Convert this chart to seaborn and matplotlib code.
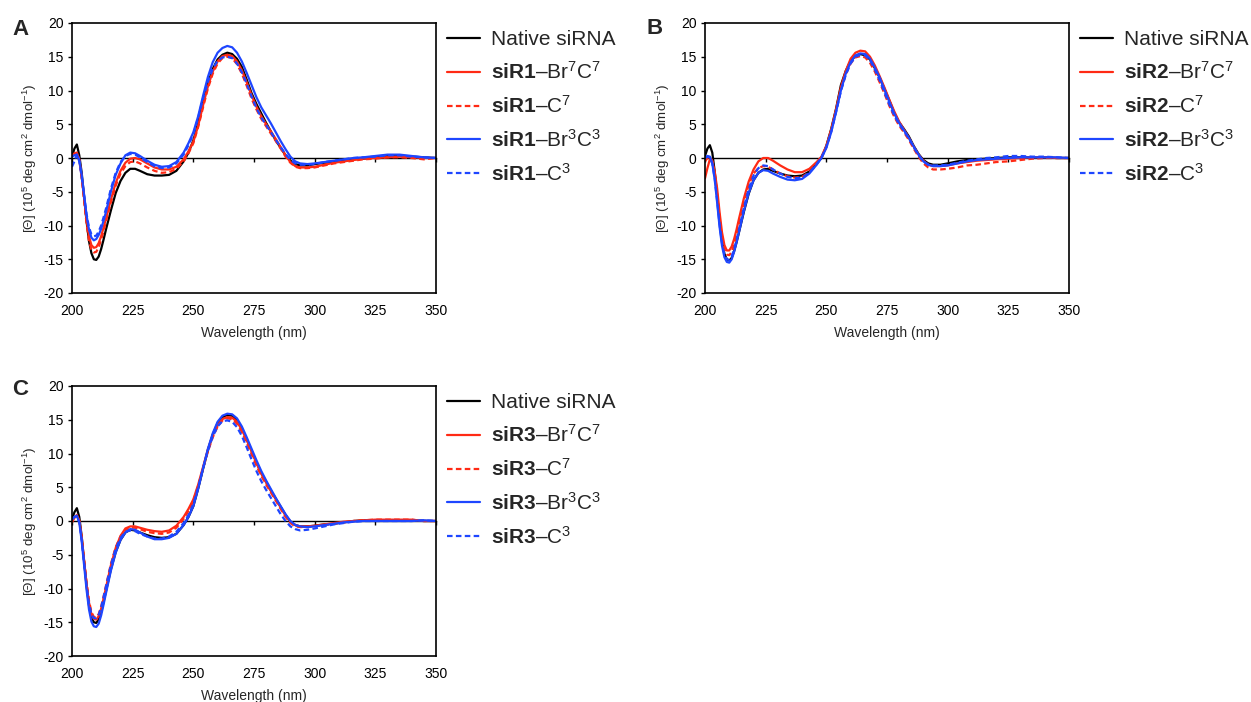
import matplotlib
matplotlib.use("Agg")
import matplotlib.pyplot as plt
from matplotlib.lines import Line2D
import numpy as np
import pandas as pd
import seaborn as sns

# ---------------- data ----------------
wavelength = [200, 201, 202, 203, 204, 205, 206, 207, 208, 209, 210, 211, 212, 213, 214,
              216, 218, 220, 222, 224, 226, 228, 231, 234, 237, 240, 243, 246, 248,
              250, 252, 254, 256, 258, 260, 262, 264, 266, 268, 270, 272, 274, 276, 278,
              280, 282, 284, 286, 288, 290, 292, 294, 297, 300, 304, 308, 312, 316, 320,
              325, 330, 335, 340, 345, 350]

# Panel A (siR1)
A_native = [0.2, 1.4, 2.0, 0.4, -2.2, -5.8, -9.4, -12.3, -14.1, -15.0, -15.1, -14.6, -13.5, -12.1, -10.6,
            -7.8, -5.2, -3.4, -2.2, -1.6, -1.6, -1.9, -2.4, -2.6, -2.6, -2.5, -1.9, -0.5, 0.8,
            2.6, 5.2, 8.2, 11.0, 13.2, 14.6, 15.3, 15.6, 15.4, 14.7, 13.5, 11.6, 9.6, 8.0, 6.6,
            5.2, 3.9, 2.6, 1.5, 0.4, -0.4, -0.9, -1.1, -1.1, -0.9, -0.7, -0.6, -0.4, -0.2, -0.1,
            0.1, 0.3, 0.3, 0.2, 0.1, 0.0]
A_br7c7 = [0.3, 0.7, 0.8, -0.2, -2.8, -6.0, -9.2, -11.6, -12.9, -13.3, -13.2, -12.6, -11.6, -10.3, -9.0,
           -6.2, -3.7, -1.9, -0.7, -0.1, 0.0, -0.2, -0.8, -1.4, -1.7, -1.7, -1.3, -0.2, 1.0,
           2.4, 4.8, 7.8, 10.6, 12.8, 14.3, 15.1, 15.3, 15.1, 14.3, 13.0, 11.2, 9.3, 7.6, 6.2,
           5.0, 3.9, 2.8, 1.6, 0.4, -0.6, -1.2, -1.4, -1.4, -1.3, -1.0, -0.7, -0.5, -0.3, -0.1,
           0.0, 0.1, 0.2, 0.1, 0.0, 0.0]
A_c7 = [0.3, 0.6, 0.7, -0.3, -3.0, -6.3, -9.7, -12.3, -13.6, -14.0, -13.9, -13.2, -12.1, -10.8, -9.4,
        -6.6, -4.1, -2.3, -1.2, -0.6, -0.5, -0.8, -1.4, -1.9, -2.2, -2.1, -1.6, -0.5, 0.7,
        2.2, 4.6, 7.5, 10.3, 12.5, 14.0, 14.8, 15.0, 14.8, 13.9, 12.5, 10.7, 8.8, 7.2, 5.8,
        4.7, 3.6, 2.5, 1.4, 0.2, -0.7, -1.3, -1.5, -1.5, -1.4, -1.1, -0.8, -0.6, -0.4, -0.2,
        -0.1, 0.1, 0.1, 0.0, -0.2, 0.0]
A_br3c3 = [0.2, 0.4, 0.5, -0.3, -2.5, -5.5, -8.5, -10.6, -11.8, -12.2, -12.0, -11.4, -10.5, -9.3, -8.0,
           -5.0, -2.5, -0.8, 0.4, 0.8, 0.7, 0.3, -0.4, -1.0, -1.3, -1.2, -0.6, 0.8, 2.2,
           3.8, 6.2, 9.2, 12.0, 14.2, 15.6, 16.3, 16.6, 16.4, 15.6, 14.3, 12.6, 10.8, 9.0, 7.5,
           6.3, 5.1, 3.8, 2.5, 1.3, 0.2, -0.5, -0.8, -0.9, -0.8, -0.6, -0.4, -0.2, 0.0, 0.1,
           0.3, 0.5, 0.5, 0.3, 0.1, 0.0]
A_c3 = [-1.3, -0.5, 0.5, -0.5, -2.8, -5.6, -8.3, -10.3, -11.3, -11.6, -11.5, -10.9, -10.0, -8.8, -7.5,
        -4.6, -2.2, -0.6, 0.3, 0.6, 0.5, 0.1, -0.6, -1.2, -1.5, -1.4, -0.8, 0.5, 1.9,
        3.5, 6.0, 8.8, 11.3, 13.2, 14.4, 14.9, 15.0, 14.8, 14.0, 12.7, 11.0, 9.1, 7.4, 6.0,
        4.9, 3.8, 2.7, 1.6, 0.6, -0.3, -0.8, -1.0, -1.0, -0.9, -0.6, -0.4, -0.2, 0.0, 0.1,
        0.2, 0.4, 0.4, 0.2, 0.1, 0.0]

# Panel B (siR2)
B_native = [0.3, 1.4, 1.9, 0.8, -2.0, -5.5, -9.2, -12.3, -14.2, -15.0, -15.2, -14.8, -13.8, -12.5, -11.0,
            -8.0, -5.3, -3.3, -2.2, -1.7, -1.6, -1.9, -2.3, -2.6, -2.7, -2.6, -2.0, -0.8, 0.0,
            1.8, 4.3, 7.3, 10.8, 12.9, 14.4, 15.1, 15.4, 15.2, 14.6, 13.3, 11.9, 10.2, 8.5, 6.7,
            5.3, 4.3, 3.2, 1.8, 0.6, -0.3, -0.8, -1.0, -1.0, -0.8, -0.5, -0.3, -0.2, -0.1, 0.0,
            0.1, 0.1, 0.1, 0.1, 0.0, 0.0]
B_br7c7 = [-3.0, -1.5, -0.2, -0.5, -2.0, -4.5, -8.0, -11.0, -12.9, -13.7, -13.7, -13.1, -12.0, -10.6, -9.0,
           -6.0, -3.5, -1.7, -0.5, 0.0, 0.0, -0.4, -1.1, -1.7, -2.1, -2.1, -1.6, -0.6, 0.2,
           1.8, 4.2, 7.2, 10.5, 12.9, 14.7, 15.6, 15.9, 15.8, 15.0, 13.7, 12.1, 10.4, 8.6, 6.9,
           5.4, 4.2, 3.0, 1.7, 0.5, -0.4, -1.0, -1.2, -1.2, -1.1, -0.8, -0.6, -0.4, -0.3, -0.2,
           -0.1, 0.0, 0.1, 0.1, 0.0, 0.0]
B_c7 = [-0.5, 0.0, 0.2, -0.4, -2.4, -5.5, -9.0, -11.9, -13.6, -14.3, -14.4, -13.9, -12.8, -11.3, -9.7,
        -6.6, -4.0, -2.3, -1.5, -1.2, -1.3, -1.7, -2.3, -2.7, -2.9, -2.8, -2.1, -0.9, 0.1,
        1.6, 4.0, 7.0, 10.1, 12.4, 14.0, 14.9, 15.1, 14.9, 14.1, 12.8, 11.2, 9.5, 7.7, 6.1,
        4.8, 3.8, 2.7, 1.4, 0.2, -0.8, -1.4, -1.7, -1.7, -1.6, -1.4, -1.1, -1.0, -0.8, -0.6,
        -0.5, -0.3, -0.1, 0.0, 0.0, 0.0]
B_br3c3 = [0.0, 0.3, 0.2, -0.8, -3.2, -6.6, -10.2, -13.0, -14.7, -15.4, -15.5, -15.0, -13.9, -12.5, -11.0,
           -7.9, -5.2, -3.3, -2.2, -1.8, -1.9, -2.3, -2.8, -3.2, -3.3, -3.1, -2.3, -1.0, 0.0,
           1.5, 3.8, 6.8, 10.0, 12.5, 14.2, 15.2, 15.5, 15.4, 14.7, 13.4, 11.9, 10.1, 8.3, 6.6,
           5.2, 4.1, 3.0, 1.7, 0.5, -0.5, -1.0, -1.2, -1.2, -1.1, -0.8, -0.5, -0.3, -0.2, -0.1,
           0.0, 0.1, 0.1, 0.1, 0.1, 0.0]
B_c3 = [0.0, 0.2, 0.1, -0.8, -3.0, -6.3, -9.8, -12.6, -14.3, -15.0, -15.1, -14.6, -13.5, -12.1, -10.6,
        -7.4, -4.6, -2.6, -1.5, -1.1, -1.2, -1.7, -2.3, -2.8, -3.0, -2.9, -2.2, -0.9, 0.1,
        1.6, 3.9, 6.8, 9.9, 12.3, 14.0, 15.0, 15.3, 15.2, 14.5, 13.1, 11.5, 9.7, 7.9, 6.3,
        5.0, 4.0, 2.9, 1.6, 0.4, -0.5, -1.0, -1.1, -1.1, -1.0, -0.7, -0.4, -0.2, 0.0, 0.1,
        0.3, 0.3, 0.2, 0.2, 0.1, 0.0]

# Panel C (siR3)
C_native = [0.3, 1.3, 1.9, 0.6, -2.3, -6.0, -9.6, -12.5, -14.3, -15.0, -15.1, -14.6, -13.5, -12.0, -10.4,
            -7.2, -4.6, -2.8, -1.7, -1.3, -1.4, -1.7, -2.1, -2.4, -2.5, -2.4, -1.9, -0.6, 0.6,
            2.2, 4.8, 7.7, 10.5, 12.8, 14.5, 15.4, 15.7, 15.6, 14.9, 13.7, 12.1, 10.4, 8.7, 7.1,
            5.8, 4.5, 3.3, 2.1, 0.9, -0.1, -0.6, -0.8, -0.8, -0.7, -0.5, -0.4, -0.2, 0.0, 0.1,
            0.1, 0.1, 0.1, 0.1, 0.0, 0.0]
C_br7c7 = [-0.2, 0.5, 0.9, 0.1, -2.4, -5.9, -9.3, -12.1, -13.8, -14.5, -14.6, -14.1, -13.0, -11.5, -9.9,
           -6.6, -4.0, -2.2, -1.1, -0.8, -0.8, -1.0, -1.3, -1.5, -1.6, -1.4, -0.7, 0.6, 1.8,
           3.2, 5.4, 8.0, 10.6, 12.7, 14.2, 15.1, 15.4, 15.3, 14.7, 13.5, 12.0, 10.3, 8.6, 7.0,
           5.7, 4.4, 3.2, 2.0, 0.8, -0.1, -0.6, -0.8, -0.8, -0.7, -0.5, -0.3, -0.1, 0.0, 0.1,
           0.2, 0.2, 0.2, 0.2, 0.0, 0.0]
C_c7 = [0.0, 0.5, 0.8, 0.0, -2.5, -5.8, -9.1, -11.8, -13.5, -14.2, -14.3, -13.8, -12.7, -11.2, -9.6,
        -6.4, -3.9, -2.3, -1.3, -1.0, -1.0, -1.2, -1.6, -1.8, -1.9, -1.7, -1.0, 0.3, 1.5,
        3.0, 5.2, 7.8, 10.3, 12.4, 14.0, 14.9, 15.2, 15.1, 14.4, 13.2, 11.6, 9.9, 8.2, 6.7,
        5.4, 4.2, 3.0, 1.8, 0.6, -0.3, -0.8, -0.9, -0.9, -0.8, -0.6, -0.4, -0.2, 0.0, 0.1,
        0.2, 0.2, 0.2, 0.2, 0.0, 0.0]
C_br3c3 = [0.2, 0.6, 0.8, -0.2, -3.0, -6.6, -10.2, -13.1, -14.9, -15.6, -15.7, -15.2, -14.0, -12.4, -10.7,
           -7.4, -4.7, -2.8, -1.7, -1.2, -1.3, -1.7, -2.3, -2.7, -2.7, -2.5, -1.9, -0.6, 0.6,
           2.2, 4.8, 7.8, 10.7, 13.0, 14.7, 15.6, 15.9, 15.8, 15.2, 14.0, 12.4, 10.7, 9.0, 7.4,
           6.0, 4.7, 3.4, 2.2, 1.0, 0.0, -0.6, -0.8, -0.9, -0.8, -0.6, -0.4, -0.2, -0.1, 0.0,
           0.0, 0.0, 0.0, 0.0, 0.1, 0.0]
C_c3 = [0.3, 0.6, 0.7, -0.2, -2.8, -6.2, -9.5, -12.2, -13.8, -14.4, -14.4, -13.9, -12.8, -11.3, -9.7,
        -6.6, -4.1, -2.5, -1.6, -1.4, -1.5, -1.9, -2.3, -2.6, -2.6, -2.3, -1.6, -0.3, 0.9,
        2.5, 5.0, 7.8, 10.4, 12.5, 14.0, 14.8, 14.9, 14.7, 13.9, 12.6, 10.9, 9.1, 7.4, 5.9,
        4.6, 3.4, 2.2, 1.0, 0.0, -0.8, -1.2, -1.4, -1.3, -1.1, -0.8, -0.5, -0.3, -0.1, 0.0,
        0.0, 0.0, 0.0, 0.0, 0.1, 0.0]

panel_letters = ["A", "B", "C"]
panel_names = ["siR1", "siR2", "siR3"]
series_keys = ["native", "br7c7", "c7", "br3c3", "c3"]
x_ticks = [200, 225, 250, 275, 300, 325, 350]
y_ticks = [-20, -15, -10, -5, 0, 5, 10, 15, 20]

panel_data = {
    "A": [A_native, A_br7c7, A_c7, A_br3c3, A_c3],
    "B": [B_native, B_br7c7, B_c7, B_br3c3, B_c3],
    "C": [C_native, C_br7c7, C_c7, C_br3c3, C_c3],
}

# ---------------- style ----------------
sns.set_theme(style="white")
plt.rcParams.update({
    "font.family": ["Liberation Sans", "DejaVu Sans"],
    "mathtext.fontset": "custom",
    "mathtext.rm": "Liberation Sans",
    "mathtext.bf": "Liberation Sans:bold",
    "mathtext.it": "Liberation Sans:italic",
    "axes.unicode_minus": False,
})

RED = "#ff2a14"
BLUE = "#1e46ff"
colors = {"native": "black", "br7c7": RED, "c7": RED, "br3c3": BLUE, "c3": BLUE}
dashes = {"native": "", "br7c7": "", "c7": (2.5, 1.5), "br3c3": "", "c3": (2.5, 1.5)}
LW = 1.6

W, H = 1251, 702
fig = plt.figure(figsize=(W / 100, H / 100), dpi=100)

# axes boxes in pixels: left, top, width, height
boxes = {"A": (72, 23, 364, 270), "B": (705, 23, 364, 270), "C": (72, 386, 364, 270)}
letter_pos = {"A": (12, 35), "B": (646, 34), "C": (12, 395)}

for letter, name in zip(panel_letters, panel_names):
    l, t, w, h = boxes[letter]
    ax = fig.add_axes([l / W, 1 - (t + h) / H, w / W, h / H])
    rows = []
    for key, vals in zip(series_keys, panel_data[letter]):
        for x, y in zip(wavelength, vals):
            rows.append({"wavelength": x, "theta": y, "series": key})
    df = pd.DataFrame(rows)
    sns.lineplot(data=df, x="wavelength", y="theta", hue="series", style="series",
                 hue_order=series_keys, style_order=series_keys,
                 palette=colors, dashes=dashes, linewidth=LW,
                 estimator=None, sort=False, legend=False, ax=ax)

    ax.set_xlim(200, 350)
    ax.set_ylim(-20, 20)
    ax.set_xticks(x_ticks)
    ax.set_yticks(y_ticks)
    ax.tick_params(axis="x", bottom=True, length=0, pad=8, labelsize=10, colors="black")
    ax.tick_params(axis="y", left=True, direction="out", length=3, width=1, pad=3,
                   labelsize=10, colors="black")
    for sp in ax.spines.values():
        sp.set_visible(True)
        sp.set_color("black")
        sp.set_linewidth(1.2)
    ax.set_xlabel("Wavelength (nm)", fontsize=10, labelpad=6)
    ax.set_ylabel("[Θ] (10$^{5}$ deg cm$^{2}$ dmol$^{-1}$)", fontsize=9.6, labelpad=3)

    # zero axis line with tick marks (Excel style)
    sec = ax.secondary_xaxis(0.5)
    sec.set_alignment("bottom")
    sec.set_xticks(x_ticks)
    sec.tick_params(axis="x", direction="out", length=3, width=1, labelbottom=False,
                    labeltop=False, colors="black")
    for sp in sec.spines.values():
        sp.set_color("black")
        sp.set_linewidth(1.0)

    labels = ["Native siRNA",
              rf"$\mathbf{{{name}}}$–Br$^{{7}}$C$^{{7}}$",
              rf"$\mathbf{{{name}}}$–C$^{{7}}$",
              rf"$\mathbf{{{name}}}$–Br$^{{3}}$C$^{{3}}$",
              rf"$\mathbf{{{name}}}$–C$^{{3}}$"]
    handles = [Line2D([], [], color=colors[k], lw=LW,
                      linestyle="-" if dashes[k] == "" else (0, dashes[k]))
               for k in series_keys]
    ax.legend(handles, labels, loc="upper left", bbox_to_anchor=(1.030, 0.973),
              frameon=False, fontsize=15, handlelength=1.6, handletextpad=0.5,
              labelspacing=0.57, borderaxespad=0, borderpad=0)

    lx, ly = letter_pos[letter]
    fig.text(lx / W, 1 - ly / H, letter, fontsize=16, fontweight="bold",
             ha="left", va="baseline")

fig.savefig("out.png", dpi=100)
